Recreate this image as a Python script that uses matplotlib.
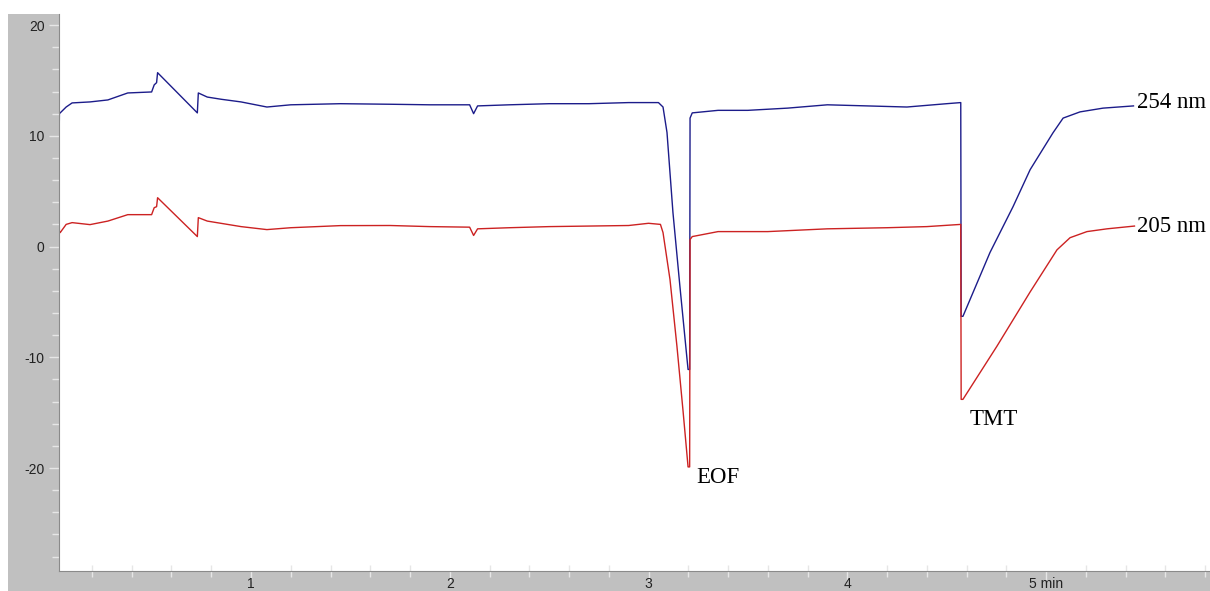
import numpy as np
import matplotlib
matplotlib.use("Agg")
from matplotlib import pyplot as plt
from matplotlib.patches import Rectangle
from matplotlib.ticker import MultipleLocator, FixedLocator

plt.rcParams['axes.unicode_minus'] = False

# time (min) / signal (mAU)
t_254 = [0.034, 0.036, 0.04, 0.07, 0.10, 0.19, 0.28, 0.38, 0.50, 0.513, 0.525, 0.53,
         0.73, 0.735, 0.78, 0.85, 0.95, 1.08, 1.2, 1.45, 1.7, 1.9, 2.10, 2.12, 2.14,
         2.3, 2.5, 2.7, 2.9, 3.05, 3.073, 3.093, 3.123, 3.158, 3.194, 3.199, 3.207,
         3.209, 3.22, 3.35, 3.5, 3.7, 3.9, 4.1, 4.3, 4.5, 4.571, 4.573, 4.582, 4.718,
         4.834, 4.920, 5.035, 5.086, 5.171, 5.287, 5.44]
y_254 = [8.6, 12.0, 12.07, 12.6, 12.97, 13.06, 13.24, 13.87, 13.96, 14.6, 14.8, 15.7,
         12.07, 13.87, 13.5, 13.3, 13.06, 12.6, 12.8, 12.9, 12.85, 12.8, 12.8, 12.0, 12.7,
         12.8, 12.9, 12.9, 13.0, 13.0, 12.6, 10.3, 3.06, -3.6, -10.2, -11.1, -11.1,
         11.6, 12.07, 12.3, 12.3, 12.5, 12.8, 12.7, 12.6, 12.9, 13.0, -6.3, -6.3, -0.54,
         3.6, 6.94, 10.27, 11.6, 12.16, 12.5, 12.7]

t_205 = [0.034, 0.036, 0.04, 0.07, 0.10, 0.19, 0.28, 0.38, 0.50, 0.513, 0.525, 0.53,
         0.73, 0.735, 0.78, 0.95, 1.08, 1.2, 1.45, 1.7, 1.9, 2.10, 2.12, 2.14, 2.3,
         2.5, 2.7, 2.9, 3.0, 3.06, 3.073, 3.108, 3.143, 3.174, 3.199, 3.207, 3.209,
         3.22, 3.35, 3.6, 3.9, 4.2, 4.4, 4.571, 4.573, 4.582, 4.753, 4.920, 5.055,
         5.121, 5.206, 5.307, 5.445]
y_205 = [4.0, 1.3, 1.26, 2.0, 2.16, 1.98, 2.3, 2.88, 2.88, 3.51, 3.6, 4.41,
         0.90, 2.61, 2.3, 1.80, 1.53, 1.7, 1.89, 1.9, 1.8, 1.75, 1.0, 1.6, 1.7,
         1.8, 1.85, 1.9, 2.1, 2.0, 1.26, -2.97, -9.0, -14.9, -19.9, -19.9, 0.63,
         0.9, 1.35, 1.35, 1.6, 1.7, 1.8, 2.0, -13.8, -13.8, -9.0, -4.1, -0.3,
         0.8, 1.35, 1.6, 1.85]

x_major = [1, 2, 3, 4, 5]
x_labels = ["1", "2", "3", "4", "5 min"]
y_major = [-20, -10, 0, 10, 20]

fig = plt.figure(figsize=(12.1, 5.91), dpi=100, facecolor="white")
# grey frame of the instrument software window
fig.add_artist(Rectangle((8 / 1210, 0), 1, (591 - 14) / 591,
                         transform=fig.transFigure, color="#c0c0c0", lw=0, zorder=-10))

ax = fig.add_axes([59 / 1210, 20 / 591, 1151 / 1210, 557 / 591])
ax.set_zorder(1)
ax.set_facecolor("white")
ax.plot(t_254, y_254, color="#1c1c8a", lw=1.0)
ax.plot(t_205, y_205, color="#cc2222", lw=1.0)

ax.set_xlim(0.034, 5.825)
ax.set_ylim(-29.3, 21.0)

for s in ["top", "right"]:
    ax.spines[s].set_visible(False)
ax.spines["left"].set_color("#8a8a8a")
ax.spines["bottom"].set_color("#8a8a8a")

ax.xaxis.set_major_locator(FixedLocator(x_major))
ax.set_xticklabels(x_labels)
ax.xaxis.set_minor_locator(MultipleLocator(0.2))
ax.yaxis.set_major_locator(FixedLocator(y_major))
ax.yaxis.set_minor_locator(MultipleLocator(2))

ax.tick_params(axis="both", which="major", colors="#e6e6e6", labelcolor="#222222",
               labelsize=10, length=7, width=1)
ax.tick_params(axis="both", which="minor", colors="#e6e6e6", length=5, width=1)
ax.tick_params(axis="x", which="minor", direction="inout", length=8)
ax.tick_params(axis="x", which="major", pad=-2.5)
for lbl in ax.get_xticklabels() + ax.get_yticklabels():
    lbl.set_family(["Liberation Sans", "DejaVu Sans"])

serif = ["Liberation Serif", "DejaVu Serif"]
ax.text(5.458, 13.05, "254 nm", family=serif, fontsize=16.5, va="center", ha="left")
ax.text(5.458, 1.8, "205 nm", family=serif, fontsize=16.5, va="center", ha="left")
ax.text(3.239, -20.86, "EOF", family=serif, fontsize=16.5, va="center", ha="left")
ax.text(4.618, -15.6, "TMT", family=serif, fontsize=16.5, va="center", ha="left")

fig.savefig("out.png", dpi=100, facecolor=fig.get_facecolor())
